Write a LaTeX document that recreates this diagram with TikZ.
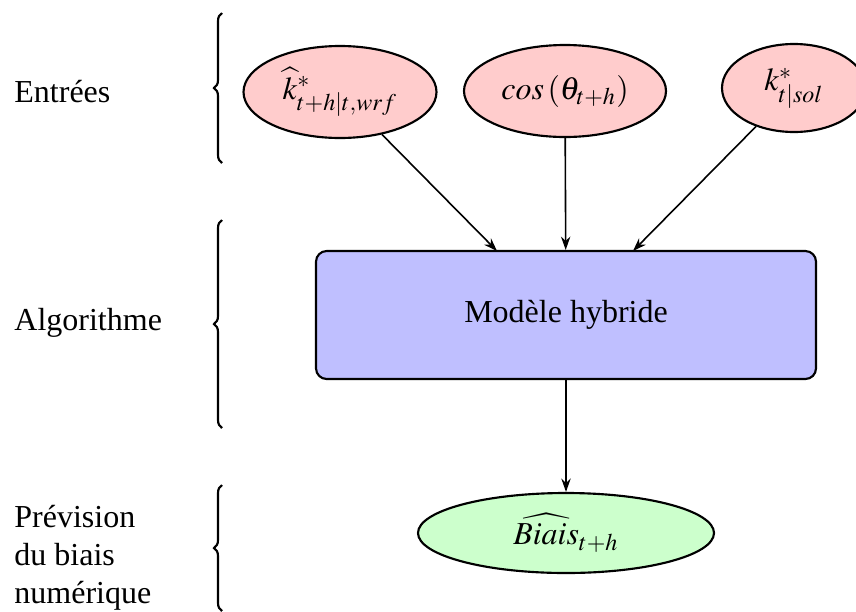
\documentclass[tikz,border=0pt]{standalone}
\usepackage{mathptmx}
\usepackage[no-math]{fontspec}
\setmainfont{Liberation Serif}
\usetikzlibrary{shapes.geometric,arrows.meta,decorations.pathreplacing}
\begin{document}
\begin{tikzpicture}[x=0.375pt,y=-0.375pt,
  every node/.style={font=\fontsize{12}{14.2}\selectfont},
  inp/.style={ellipse,draw,line width=0.8pt,fill=red!20,inner sep=0pt},
  outp/.style={ellipse,draw,line width=0.8pt,fill=green!20,inner sep=0pt},
  algo/.style={rectangle,rounded corners=4pt,draw,line width=0.8pt,fill=blue!25,inner sep=0pt},
  conn/.style={-{Stealth[length=5pt,width=3.5pt]},line width=0.6pt},
  brc/.style={decorate,decoration={brace,amplitude=3pt},line width=0.8pt},
  lbl/.style={align=left,anchor=west}]
\useasboundingbox (0,0) rectangle (856,611);
\clip (0,0) rectangle (856,611);
% input nodes
\node[inp,minimum width=193*0.375pt,minimum height=92*0.375pt] (k1) at (340,92) {$\widehat{k}^*_{t+h|t,wrf}$};
\node[inp,minimum width=202*0.375pt,minimum height=92*0.375pt] (cs) at (565,91) {$cos\left(\theta_{t+h}\right)$};
\node[inp,minimum width=144*0.375pt,minimum height=88*0.375pt] (k2) at (794,88) {$k^*_{t|sol}$};
% algorithm
\node[algo,minimum width=500*0.375pt,minimum height=128*0.375pt] (m) at (566,315) {Modèle hybride};
% output
\node[outp,minimum width=296*0.375pt,minimum height=80*0.375pt] (b) at (566,533) {$\widehat{Biais}_{t+h}$};
% connectors
\coordinate (mL) at (497,251);
\coordinate (mR) at (633,251);
\draw[conn] (k1) -- (mL);
\draw[conn] (cs) -- (m);
\draw[conn] (k2) -- (mR);
\draw[conn] (m) -- (b);
% braces
\coordinate (b1t) at (222,13);
\coordinate (b1b) at (222,163);
\coordinate (b2t) at (222,220);
\coordinate (b2b) at (222,428);
\coordinate (b3t) at (222,485);
\coordinate (b3b) at (222,611);
\draw[brc] (b1b) -- (b1t);
\draw[brc] (b2b) -- (b2t);
\draw[brc] (b3b) -- (b3t);
% labels
\node[lbl] (l1) at (5,92) {Entrées};
\node[lbl] (l2) at (5,323) {Algorithme};
\node[lbl] (l3) at (5,558) {Prévision\\du biais\\numérique};
\end{tikzpicture}
\end{document}
